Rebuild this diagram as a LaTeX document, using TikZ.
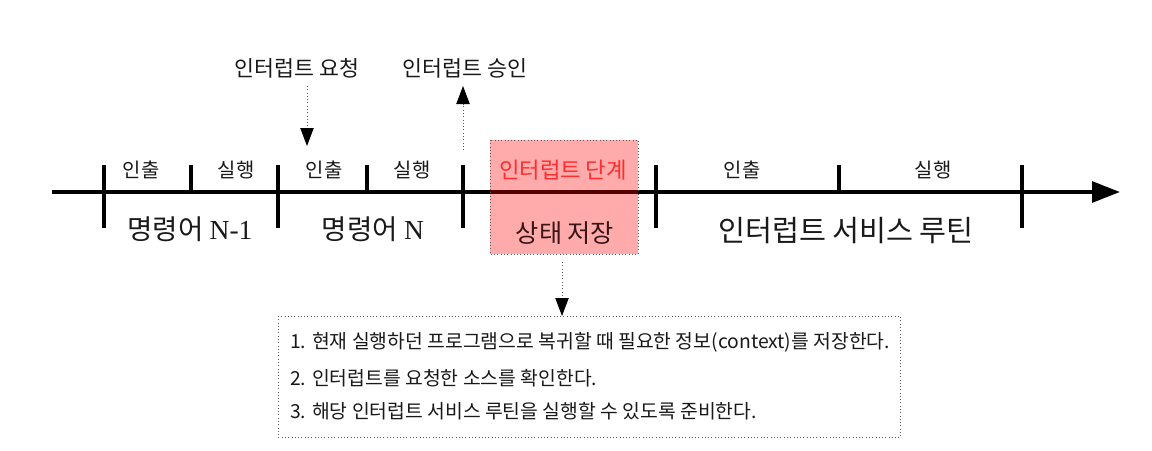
\documentclass[tikz,border=0pt]{standalone}
\usepackage{fontspec}
\setmainfont{Noto Sans CJK KR}
\newfontfamily\latinserif{Liberation Serif}
\usetikzlibrary{arrows.meta, positioning}
\definecolor{labelred}{RGB}{255, 45, 45}
\definecolor{darktext}{RGB}{25, 25, 25}
\definecolor{dotgray}{RGB}{90, 90, 90}
\tikzset{
  timeline/.style={line width=3.4pt, -{Triangle[length=0.84cm, width=0.62cm]}},
  tallmark/.style={line width=3.4pt},
  shortmark/.style={line width=3.4pt},
  phase/.style={font=\fontsize{17pt}{20pt}\selectfont, text=darktext, inner sep=0pt},
  instr/.style={font=\fontsize{23.5pt}{28pt}\selectfont, text=darktext, inner sep=0pt},
  signal/.style={font=\fontsize{18.5pt}{22pt}\selectfont, text=darktext, inner sep=0pt},
  sigarrow/.style={dotgray, line width=0.8pt, dotted, -{Triangle[length=0.54cm, width=0.4cm, color=black]}},
  notebox/.style={draw=dotgray, dotted, line width=0.8pt},
  noteline/.style={font=\fontsize{16.5pt}{20pt}\selectfont, text=darktext, inner sep=0pt, anchor=west}
}
\begin{document}
\begin{tikzpicture}[x=0.03cm, y=-0.03cm]
  \useasboundingbox (0,0) rectangle (1152,451);
  % time axis
  \coordinate (axisstart) at (52,192);
  \coordinate (axisend) at (1120,192);
  \draw[timeline] (axisstart) -- (axisend);
  \foreach \x in {104,278,463,656,1022}
    \draw[tallmark] (\x,165) -- (\x,228);
  \foreach \x in {191,367,839}
    \draw[shortmark] (\x,165) -- (\x,192);
  % fetch / execute
  \node[phase] (fetcha) at (141,170) {인출};
  \node[phase] (execa) at (236,170) {실행};
  \node[phase] (fetchb) at (324,170) {인출};
  \node[phase] (execb) at (412,170) {실행};
  \node[phase] (fetchc) at (742,170) {인출};
  \node[phase] (execc) at (933,170) {실행};
  \node[instr] (instra) at (190,229) {명령어 {\latinserif N-1}};
  \node[instr] (instrb) at (373,229) {명령어 {\latinserif N}};
  \node[instr, font=\fontsize{25pt}{30pt}\selectfont] (isr) at (846,231) {인터럽트 서비스 루틴};
  % interrupt stage
  \fill[red, fill opacity=0.33] (490,140) rectangle (638,254);
  \draw[notebox] (490,140) rectangle (638,254);
  \coordinate (stagebottom) at (562,262);
  \node[signal, text=labelred, font=\fontsize{19pt}{22pt}\selectfont] (stage) at (563,170) {인터럽트 단계};
  \node[instr, text=darktext!85!red, font=\fontsize{21.5pt}{26pt}\selectfont] (save) at (565,233) {상태 저장};
  % request / acknowledge
  \node[signal] (req) at (297,68) {인터럽트 요청};
  \node[signal] (ack) at (465,68) {인터럽트 승인};
  \coordinate (reqtop) at (307,86);
  \coordinate (reqend) at (307,146);
  \coordinate (acklow) at (463,150);
  \coordinate (acktip) at (463,86);
  \draw[sigarrow] (reqtop) -- (reqend);
  \draw[sigarrow] (acklow) -- (acktip);
  % note box
  \node[notebox, minimum width=18.66cm, minimum height=3.63cm, anchor=north west] (note) at (278,316) {};
  \draw[sigarrow] (stagebottom) -- (note.north -| stagebottom);
  \node[noteline] (notea) at (290,342) {1. 현재 실행하던 프로그램으로 복귀할 때 필요한 정보(context)를 저장한다.};
  \node[noteline] (noteb) at (290,378) {2. 인터럽트를 요청한 소스를 확인한다.};
  \node[noteline] (notec) at (290,411) {3. 해당 인터럽트 서비스 루틴을 실행할 수 있도록 준비한다.};
\end{tikzpicture}
\end{document}
